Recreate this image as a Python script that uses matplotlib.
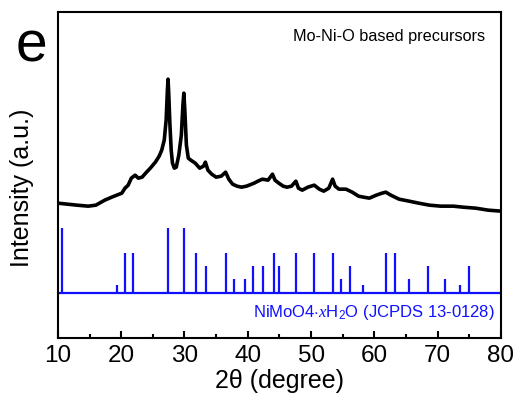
import matplotlib
matplotlib.use("Agg")
import matplotlib.pyplot as plt
import numpy as np

plt.rcParams["font.family"] = ["Liberation Sans", "DejaVu Sans"]
plt.rcParams["mathtext.fontset"] = "custom"
plt.rcParams["mathtext.rm"] = "Liberation Sans"
plt.rcParams["mathtext.it"] = "Liberation Serif:italic"

# measured XRD pattern of the precursor (2theta, intensity a.u.)
two_theta = [10.0, 11.5, 13.0, 14.8, 16.0, 17.4, 18.5, 20.1, 20.6, 21.1, 21.6, 22.2, 22.7,
             23.3, 24.0, 24.6, 25.4, 26.0, 26.4, 26.8, 27.1, 27.3, 27.4, 27.5, 27.7, 27.9,
             28.1, 28.4, 28.7, 29.1, 29.5, 29.75, 29.9, 30.05, 30.3, 30.6, 31.0, 31.7, 32.4,
             33.0, 33.3, 33.7, 34.3, 35.0, 35.8, 36.5, 37.0, 37.6, 38.3, 39.0, 39.8, 41.0,
             41.6, 42.3, 43.2, 43.9, 44.3, 44.9, 45.6, 46.2, 46.9, 47.6, 48.0, 48.6, 49.5,
             50.5, 51.3, 52.0, 52.8, 53.4, 53.8, 54.4, 55.5, 56.5, 57.5, 58.3, 59.2, 60.3,
             61.2, 61.8, 62.6, 63.9, 65.5, 67.0, 68.7, 70.5, 72.5, 74.0, 76.0, 78.0, 80.0]
intensity = [135, 134, 133, 132, 133, 138, 141, 145, 150, 153, 160, 163, 160,
             161, 166, 170, 176, 182, 188, 198, 218, 248, 259, 246, 213, 188,
             175, 170, 171, 183, 203, 233, 245, 228, 193, 180, 178, 175, 170,
             172, 176, 168, 164, 161, 162, 166, 159, 154, 152, 151, 152, 155,
             157, 159, 158, 164, 158, 155, 152, 151, 152, 157, 150, 148, 151,
             153, 149, 147, 150, 159, 152, 149, 149, 146, 142, 141, 140, 143,
             145, 146, 143, 139, 137, 135, 133, 132, 132, 131, 130, 128, 127]

# reference pattern NiMoO4.xH2O (JCPDS 13-0128), relative intensity
ref_pos = [10.7, 19.4, 20.6, 21.8, 27.4, 29.9, 31.8, 33.4, 36.5, 37.8, 39.6, 40.9, 42.4,
           44.1, 44.9, 47.6, 50.5, 53.5, 54.8, 56.1, 58.2, 61.8, 63.2, 65.4, 68.5, 71.1,
           73.6, 75.0]
ref_int = [100, 13, 62, 62, 100, 100, 62, 42, 62, 22, 22, 42, 42,
           62, 42, 62, 62, 62, 22, 42, 13, 62, 62, 22, 42, 22,
           13, 42]
ref_offset = 45
ref_scale = 0.65

fig = plt.figure(figsize=(5.17, 4.05), dpi=100)
ax = fig.add_axes([0.112, 0.165, 0.857, 0.805])

ax.plot(two_theta, intensity, color="black", lw=2.6)

ax.axhline(ref_offset, color="#1010ff", lw=1.6)
ax.vlines(ref_pos, ref_offset, ref_offset + np.array(ref_int) * ref_scale,
          color="#1010ff", lw=1.6)

ax.set_xlim(10, 80)
ax.set_ylim(0, 326)
ax.set_xticks(np.arange(10, 81, 10))
ax.set_xticks(np.arange(15, 80, 10), minor=True)
ax.set_yticks([])
ax.tick_params(axis="x", which="both", direction="in", labelsize=17.5, pad=5, width=1.5)
ax.tick_params(axis="x", which="major", length=5)
ax.tick_params(axis="x", which="minor", length=3)
for s in ax.spines.values():
    s.set_linewidth(1.5)

ax.set_xlabel("2\u03b8 (degree)", fontsize=18, labelpad=1)
fig.text(22 / 517, 1 - 188 / 405, "Intensity (a.u.)", rotation=90,
         ha="center", va="center", fontsize=18)

ax.text(0.965, 0.925, "Mo-Ni-O based precursors", transform=ax.transAxes,
        ha="right", va="center", fontsize=11.7)
ax.text(0.985, 0.078, r"NiMoO4$\cdot$$\mathit{x}$H$_2$O (JCPDS 13-0128)",
        transform=ax.transAxes, ha="right", va="center", fontsize=12, color="#1010ff")

fig.text(31 / 517, 1 - 62 / 405, "e", ha="center", va="baseline", fontsize=41)

fig.savefig("out.png", dpi=100)
